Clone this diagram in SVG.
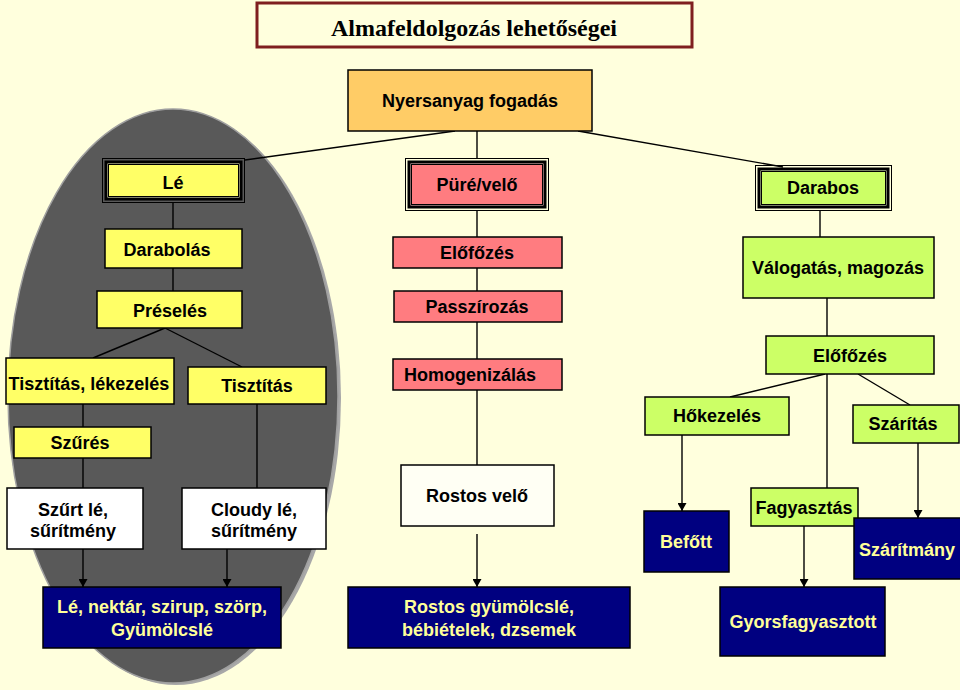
<svg xmlns="http://www.w3.org/2000/svg" width="960" height="690" viewBox="0 0 960 690">
<defs>
<style>
.bx{stroke:#000;stroke-width:1.5}
.y{fill:#FFFF66}.p{fill:#FF7C80}.g{fill:#CCFF66}.o{fill:#FFCC66}.w{fill:#FFFFFF}.n{fill:#000080}
.t{font-family:"Liberation Sans",Arial,sans-serif;font-weight:bold;font-size:18px;text-anchor:middle;fill:#000}
.tn{fill:#FFFF99}
.c line{stroke:#000;stroke-width:1.4}
.a{marker-end:url(#arr)}
.fo{fill:none;stroke:#000;stroke-width:1}
.fb{fill:#000}
.fi{stroke:#000;stroke-width:1}
</style>
<marker id="arr" markerUnits="userSpaceOnUse" markerWidth="8" markerHeight="9" refX="8" refY="4.5" orient="auto">
<path d="M0,0 L8,4.5 L0,9 z" fill="#000"/>
</marker>
</defs>
<rect width="960" height="690" fill="#FFFFDD"/>
<ellipse cx="176" cy="398" rx="165" ry="287" fill="#A8A8A8"/>
<ellipse cx="173" cy="396" rx="165" ry="287" fill="#595959" stroke="#A0A0A0" stroke-width="1.5"/>

<g id="title">
<rect x="257" y="3" width="435" height="44" fill="#FFFFDD" stroke="#7F1F1F" stroke-width="3"/>
<text x="474" y="36" style="font-family:'Liberation Serif','Times New Roman',serif;font-weight:bold;font-size:24px;text-anchor:middle">Almafeldolgozás lehetőségei</text>
</g>

<g class="c" id="connectors">
<line x1="455" y1="131" x2="245" y2="160"/>
<line x1="477" y1="131" x2="477" y2="158"/>
<line x1="578" y1="131" x2="783" y2="167"/>
<line x1="173" y1="203" x2="173" y2="229"/>
<line x1="173" y1="268" x2="173" y2="291"/>
<line x1="165" y1="328" x2="93" y2="358"/>
<line x1="165" y1="328" x2="242" y2="367"/>
<line x1="83" y1="404" x2="83" y2="427"/>
<line x1="83" y1="458" x2="83" y2="488"/>
<line x1="257" y1="404" x2="257" y2="488"/>
<line class="a" x1="83" y1="549" x2="83" y2="587"/>
<line class="a" x1="227" y1="549" x2="227" y2="587"/>
<line x1="477" y1="211" x2="477" y2="237"/>
<line x1="477" y1="268" x2="477" y2="291"/>
<line x1="477" y1="322" x2="477" y2="359"/>
<line x1="477" y1="390" x2="477" y2="465"/>
<line class="a" x1="477" y1="534" x2="477" y2="587"/>
<line x1="820" y1="211" x2="820" y2="237"/>
<line x1="827" y1="298" x2="827" y2="336"/>
<line x1="825" y1="374" x2="730" y2="397"/>
<line x1="858" y1="374" x2="910" y2="405"/>
<line x1="827" y1="374" x2="827" y2="488"/>
<line class="a" x1="682" y1="435" x2="682" y2="511"/>
<line class="a" x1="804" y1="526" x2="804" y2="587"/>
<line class="a" x1="918" y1="443" x2="918" y2="518"/>
</g>

<g id="nyersanyag"><rect class="bx o" x="348" y="70" width="244" height="61"/><text class="t" x="470" y="107">Nyersanyag fogadás</text></g>

<g id="le">
<rect class="fo" x="102.5" y="158.5" width="142" height="44"/>
<rect class="fb" x="104.5" y="160.5" width="138" height="40"/>
<rect fill="#FFFFCC" x="107.5" y="163.5" width="132" height="34"/>
<rect class="fi y" x="108.5" y="164.5" width="130" height="32"/>
<text class="t" x="173" y="189">Lé</text>
</g>
<g id="pure">
<rect class="fo" x="405.5" y="158.5" width="143" height="52"/>
<rect class="fb" x="407.5" y="160.5" width="139" height="48"/>
<rect fill="#FFD0D0" x="410.5" y="163.5" width="133" height="42"/>
<rect class="fi p" x="411.5" y="164.5" width="131" height="40"/>
<text class="t" x="477" y="191">Püré/velő</text>
</g>
<g id="darabos">
<rect class="fo" x="755.5" y="165.5" width="136" height="45"/>
<rect class="fb" x="757.5" y="167.5" width="132" height="41"/>
<rect fill="#EEFFCC" x="760.5" y="170.5" width="126" height="35"/>
<rect class="fi g" x="761.5" y="171.5" width="124" height="33"/>
<text class="t" x="823" y="194">Darabos</text>
</g>

<g id="darabolas"><rect class="bx y" x="105" y="229" width="137" height="39"/><text class="t" x="167" y="256">Darabolás</text></g>
<g id="preseles"><rect class="bx y" x="97" y="291" width="145" height="37"/><text class="t" x="170" y="317">Préselés</text></g>
<g id="tisztitas-lekezeles"><rect class="bx y" x="6" y="358" width="168" height="46"/><text class="t" x="89" y="390">Tisztítás, lékezelés</text></g>
<g id="tisztitas"><rect class="bx y" x="188" y="367" width="138" height="37"/><text class="t" x="257" y="392">Tisztítás</text></g>
<g id="szures"><rect class="bx y" x="14" y="427" width="137" height="31"/><text class="t" x="80" y="449">Szűrés</text></g>
<g id="szurt-le"><rect class="bx w" x="7" y="488" width="136" height="61"/><text class="t" x="73" y="516">Szűrt lé,</text><text class="t" x="73" y="537">sűrítmény</text></g>
<g id="cloudy-le"><rect class="bx w" x="182" y="488" width="144" height="61"/><text class="t" x="254" y="516">Cloudy lé,</text><text class="t" x="254" y="537">sűrítmény</text></g>

<g id="elofozes-p"><rect class="bx p" x="393" y="237" width="169" height="31"/><text class="t" x="477" y="259">Előfőzés</text></g>
<g id="passzirozas"><rect class="bx p" x="394" y="291" width="168" height="31"/><text class="t" x="477" y="313">Passzírozás</text></g>
<g id="homogenizalas"><rect class="bx p" x="393" y="359" width="169" height="31"/><text class="t" x="470" y="381">Homogenizálás</text></g>
<g id="rostos-velo"><rect class="bx" fill="#FFFFF4" x="401" y="465" width="153" height="61"/><text class="t" x="477" y="502">Rostos velő</text></g>

<g id="valogatas"><rect class="bx g" x="743" y="237" width="191" height="61"/><text class="t" x="838" y="274">Válogatás, magozás</text></g>
<g id="elofozes-g"><rect class="bx g" x="766" y="336" width="168" height="38"/><text class="t" x="850" y="362">Előfőzés</text></g>
<g id="hokezeles"><rect class="bx g" x="645" y="397" width="144" height="38"/><text class="t" x="717" y="422">Hőkezelés</text></g>
<g id="szaritas"><rect class="bx g" x="853" y="405" width="106" height="38"/><text class="t" x="903" y="430">Szárítás</text></g>
<g id="fagyasztas"><rect class="bx g" x="751" y="488" width="107" height="38"/><text class="t" x="804" y="514">Fagyasztás</text></g>

<g id="befott"><rect class="bx n" x="644" y="511" width="85" height="61"/><text class="t tn" x="686" y="548">Befőtt</text></g>
<g id="szaritmany"><rect class="bx n" x="854" y="518" width="107" height="61"/><text class="t tn" x="907" y="556">Szárítmány</text></g>
<g id="le-nektar"><rect class="bx n" x="43" y="587" width="238" height="61"/><text class="t tn" x="162" y="613">Lé, nektár, szirup, szörp,</text><text class="t tn" x="162" y="636">Gyümölcslé</text></g>
<g id="rostos-gyumolcsle"><rect class="bx n" x="348" y="587" width="282" height="61"/><text class="t tn" x="489" y="613">Rostos gyümölcslé,</text><text class="t tn" x="489" y="636">bébiételek, dzsemek</text></g>
<g id="gyorsfagyasztott"><rect class="bx n" x="720" y="587" width="165" height="69"/><text class="t tn" x="803" y="628">Gyorsfagyasztott</text></g>
</svg>
